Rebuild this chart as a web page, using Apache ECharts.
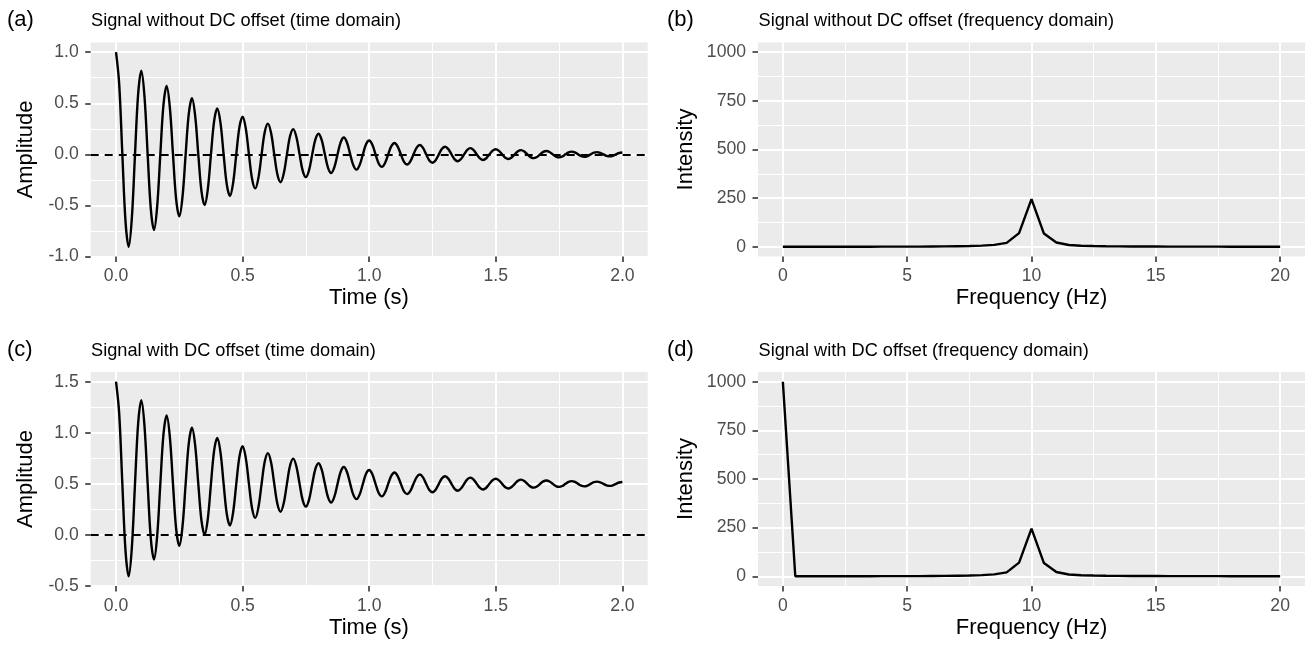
<!DOCTYPE html>
<html>
<head>
<meta charset="utf-8">
<script src="https://cdn.jsdelivr.net/npm/echarts@6/dist/echarts.min.js"></script>
<style>
html,body{margin:0;padding:0;background:#fff;}
#chart{width:1309px;height:648px;}
</style>
</head>
<body>
<div id="chart"></div>
<script>
// ---------- data ----------
const TIME = [0,0.0125,0.025,0.0375,0.05,0.0625,0.075,0.0875,0.1,0.1125,0.125,0.1375,0.15,0.1625,0.175,0.1875,0.2,0.2125,0.225,0.2375,0.25,0.2625,0.275,0.2875,0.3,0.3125,0.325,0.3375,0.35,0.3625,0.375,0.3875,0.4,0.4125,0.425,0.4375,0.45,0.4625,0.475,0.4875,0.5,0.5125,0.525,0.5375,0.55,0.5625,0.575,0.5875,0.6,0.6125,0.625,0.6375,0.65,0.6625,0.675,0.6875,0.7,0.7125,0.725,0.7375,0.75,0.7625,0.775,0.7875,0.8,0.8125,0.825,0.8375,0.85,0.8625,0.875,0.8875,0.9,0.9125,0.925,0.9375,0.95,0.9625,0.975,0.9875,1,1.0125,1.025,1.0375,1.05,1.0625,1.075,1.0875,1.1,1.1125,1.125,1.1375,1.15,1.1625,1.175,1.1875,1.2,1.2125,1.225,1.2375,1.25,1.2625,1.275,1.2875,1.3,1.3125,1.325,1.3375,1.35,1.3625,1.375,1.3875,1.4,1.4125,1.425,1.4375,1.45,1.4625,1.475,1.4875,1.5,1.5125,1.525,1.5375,1.55,1.5625,1.575,1.5875,1.6,1.6125,1.625,1.6375,1.65,1.6625,1.675,1.6875,1.7,1.7125,1.725,1.7375,1.75,1.7625,1.775,1.7875,1.8,1.8125,1.825,1.8375,1.85,1.8625,1.875,1.8875,1.9,1.9125,1.925,1.9375,1.95,1.9625,1.975,1.9875,2];

const SIGNAL_NO_DC = [
1.000,0.690,0,-0.656,-0.905,-0.624,0,0.594,
0.819,0.565,0,-0.537,-0.741,-0.511,0,0.486,
0.670,0.462,0,-0.440,-0.607,-0.418,0,0.398,
0.549,0.379,0,-0.360,-0.497,-0.342,0,0.326,
0.449,0.310,0,-0.295,-0.407,-0.280,0,0.267,
0.368,0.254,0,-0.241,-0.333,-0.230,0,0.218,
0.301,0.208,0,-0.198,-0.273,-0.188,0,0.179,
0.247,0.170,0,-0.162,-0.223,-0.154,0,0.146,
0.202,0.139,0,-0.132,-0.183,-0.126,0,0.120,
0.165,0.114,0,-0.108,-0.150,-0.103,0,0.098,
0.135,0.093,0,-0.089,-0.123,-0.084,0,0.080,
0.111,0.076,0,-0.073,-0.100,-0.069,0,0.066,
0.091,0.063,0,-0.060,-0.082,-0.057,0,0.054,
0.074,0.051,0,-0.049,-0.067,-0.046,0,0.044,
0.061,0.042,0,-0.040,-0.055,-0.038,0,0.036,
0.050,0.034,0,-0.033,-0.045,-0.031,0,0.030,
0.041,0.028,0,-0.027,-0.037,-0.025,0,0.024,
0.033,0.023,0,-0.022,-0.030,-0.021,0,0.020,
0.027,0.019,0,-0.018,-0.025,-0.017,0,0.016,
0.022,0.015,0,-0.015,-0.020,-0.014,0,0.013,
0.018];

const SIGNAL_DC = [
1.500,1.190,0.5,-0.156,-0.405,-0.124,0.5,1.094,
1.319,1.065,0.5,-0.037,-0.241,-0.011,0.5,0.986,
1.170,0.962,0.5,0.060,-0.107,0.082,0.5,0.898,
1.049,0.879,0.5,0.140,0.003,0.158,0.5,0.826,
0.949,0.810,0.5,0.205,0.093,0.220,0.5,0.767,
0.868,0.754,0.5,0.259,0.167,0.270,0.5,0.718,
0.801,0.708,0.5,0.302,0.227,0.312,0.5,0.679,
0.747,0.670,0.5,0.338,0.277,0.346,0.5,0.646,
0.702,0.639,0.5,0.368,0.317,0.374,0.5,0.620,
0.665,0.614,0.5,0.392,0.350,0.397,0.5,0.598,
0.635,0.593,0.5,0.411,0.377,0.416,0.5,0.580,
0.611,0.576,0.5,0.427,0.400,0.431,0.5,0.566,
0.591,0.563,0.5,0.440,0.418,0.443,0.5,0.554,
0.574,0.551,0.5,0.451,0.433,0.454,0.5,0.544,
0.561,0.542,0.5,0.460,0.445,0.462,0.5,0.536,
0.550,0.534,0.5,0.467,0.455,0.469,0.5,0.530,
0.541,0.528,0.5,0.473,0.463,0.475,0.5,0.524,
0.533,0.523,0.5,0.478,0.470,0.479,0.5,0.520,
0.527,0.519,0.5,0.482,0.475,0.483,0.5,0.516,
0.522,0.515,0.5,0.485,0.480,0.486,0.5,0.513,
0.518];

const FREQ = [0,0.5,1,1.5,2,2.5,3,3.5,4,4.5,5,5.5,6,6.5,7,7.5,8,8.5,9,9.5,10,10.5,11,11.5,12,12.5,13,13.5,14,14.5,15,15.5,16,16.5,17,17.5,18,18.5,19,19.5,20];

const SPEC_NO_DC = [0.3,0.3,0.3,0.4,0.4,0.4,0.5,0.5,0.6,0.7,0.8,1.0,1.5,2.0,3.0,4.0,6.0,10,20,70,245,68,22,9,5.5,4,3,2.2,1.7,1.4,1.2,1.0,0.9,0.8,0.7,0.6,0.5,0.5,0.4,0.4,0.3];
const SPEC_DC    = [1000,0.3,0.3,0.4,0.4,0.4,0.5,0.5,0.6,0.7,0.8,1.0,1.5,2.0,3.0,4.0,6.0,10,20,70,245,68,22,9,5.5,4,3,2.2,1.7,1.4,1.2,1.0,0.9,0.8,0.7,0.6,0.5,0.5,0.4,0.4,0.3];

// tick values
const TIME_TICKS = [0,0.5,1,1.5,2];
const TIME_MINOR = [0.25,0.75,1.25,1.75];
const FREQ_TICKS = [0,5,10,15,20];
const FREQ_MINOR = [2.5,7.5,12.5,17.5];
const AMP_A_TICKS = [-1,-0.5,0,0.5,1];
const AMP_A_MINOR = [-0.75,-0.25,0.25,0.75];
const AMP_C_TICKS = [-0.5,0,0.5,1,1.5];
const AMP_C_MINOR = [-0.25,0.25,0.75,1.25];
const INT_TICKS = [0,250,500,750,1000];
const INT_MINOR = [125,375,625,875];

const PANEL_TITLES = ['Signal without DC offset (time domain)','Signal without DC offset (frequency domain)','Signal with DC offset (time domain)','Signal with DC offset (frequency domain)'];
const TAGS = ['(a)','(b)','(c)','(d)'];

// ---------- chart ----------
const FONT = "'Liberation Sans', Arial, Helvetica, sans-serif";
const GRIDS = [
  {left:90.7, top:42.5, width:557, height:214},
  {left:758,  top:42.5, width:547, height:214},
  {left:90.7, top:372,  width:557, height:214},
  {left:758,  top:372,  width:547, height:214}
];

const fmt1 = v => v.toFixed(1);
const fmt0 = v => String(Math.round(v));

function majorAxis(gi, min, max, ticks, formatter, pos, margin) {
  return {
    type:'value', gridIndex:gi, min:min, max:max, position:pos,
    axisLine:{show:false, onZero:false},
    axisTick:{show:true, customValues:ticks, length:5.5, lineStyle:{color:'#333333', width:1.6}},
    axisLabel:{show:true, customValues:ticks, formatter:formatter, color:'#4D4D4D', fontSize:17.6, fontFamily:FONT, margin:margin},
    splitLine:{show:true, lineStyle:{color:'#FFFFFF', width:2}},
    minorTick:{show:false}, minorSplitLine:{show:false}
  };
}
function minorAxis(gi, min, max, ticks, pos) {
  return {
    type:'value', gridIndex:gi, min:min, max:max, position:pos,
    axisLine:{show:false, onZero:false},
    axisTick:{show:false, customValues:ticks},
    axisLabel:{show:false, customValues:ticks},
    splitLine:{show:true, lineStyle:{color:'#FFFFFF', width:1}}
  };
}

const xAxes = [], yAxes = [];
const xCfg = [
  [-0.1, 2.1, TIME_TICKS, TIME_MINOR, fmt1],
  [-1, 21, FREQ_TICKS, FREQ_MINOR, fmt0],
  [-0.1, 2.1, TIME_TICKS, TIME_MINOR, fmt1],
  [-1, 21, FREQ_TICKS, FREQ_MINOR, fmt0]
];
const yCfg = [
  [-1.0, 1.095, AMP_A_TICKS, AMP_A_MINOR, fmt1],
  [-50, 1050, INT_TICKS, INT_MINOR, fmt0],
  [-0.5, 1.595, AMP_C_TICKS, AMP_C_MINOR, fmt1],
  [-50, 1050, INT_TICKS, INT_MINOR, fmt0]
];
for (let i = 0; i < 4; i++) {
  const xc = xCfg[i], yc = yCfg[i];
  xAxes.push(majorAxis(i, xc[0], xc[1], xc[2], xc[4], 'bottom', 11));
  xAxes.push(minorAxis(i, xc[0], xc[1], xc[3], 'top'));
  yAxes.push(majorAxis(i, yc[0], yc[1], yc[2], yc[4], 'left', 12));
  yAxes.push(minorAxis(i, yc[0], yc[1], yc[3], 'right'));
}

function pairs(xs, ys) { return xs.map((x, i) => [x, ys[i]]); }

const zeroLine = {
  silent:true, symbol:['none','none'], label:{show:false},
  lineStyle:{type:[8,6], color:'#000000', width:2},
  emphasis:{disabled:true},
  data:[{yAxis:0}]
};

const LW = 2.4;
const series = [
  {type:'line', xAxisIndex:0, yAxisIndex:0, data:pairs(TIME, SIGNAL_NO_DC), smooth:0.35, showSymbol:false,
   lineStyle:{color:'#000', width:LW}, markLine:zeroLine, z:3},
  {type:'line', xAxisIndex:2, yAxisIndex:2, data:pairs(FREQ, SPEC_NO_DC), showSymbol:false,
   lineStyle:{color:'#000', width:LW}, z:3},
  {type:'line', xAxisIndex:4, yAxisIndex:4, data:pairs(TIME, SIGNAL_DC), smooth:0.35, showSymbol:false,
   lineStyle:{color:'#000', width:LW}, markLine:zeroLine, z:3},
  {type:'line', xAxisIndex:6, yAxisIndex:6, data:pairs(FREQ, SPEC_DC), showSymbol:false,
   lineStyle:{color:'#000', width:LW}, z:3}
];

function txt(x, y, s, size, opts) {
  return Object.assign({type:'text', x:x, y:y, silent:true,
    style:Object.assign({text:s, fontSize:size, fontFamily:FONT, fill:'#000',
      align:'left', verticalAlign:'middle'}, (opts && opts.style) || {})},
    (opts && opts.el) || {});
}
const rowY = [0, 329.5];
const graphics = [];
for (let r = 0; r < 2; r++) {
  const dy = rowY[r];
  graphics.push(txt(7, 20 + dy, TAGS[r*2], 22));
  graphics.push(txt(667, 20 + dy, TAGS[r*2+1], 22));
  graphics.push(txt(91, 21 + dy, PANEL_TITLES[r*2], 18.2));
  graphics.push(txt(758.5, 21 + dy, PANEL_TITLES[r*2+1], 18.2));
  graphics.push(txt(369, 298 + dy, 'Time (s)', 22, {style:{align:'center'}}));
  graphics.push(txt(1031.5, 298 + dy, 'Frequency (Hz)', 22, {style:{align:'center'}}));
  graphics.push(txt(26, 149.5 + dy, 'Amplitude', 22, {style:{align:'center'}, el:{rotation:Math.PI/2}}));
  graphics.push(txt(686, 149.5 + dy, 'Intensity', 22, {style:{align:'center'}, el:{rotation:Math.PI/2}}));
}

const chart = echarts.init(document.getElementById('chart'), null, {renderer:'canvas'});
chart.setOption({
  animation:false,
  backgroundColor:'#FFFFFF',
  grid: GRIDS.map(g => Object.assign({show:true, backgroundColor:'#EBEBEB', borderWidth:0, containLabel:false}, g)),
  xAxis: xAxes,
  yAxis: yAxes,
  series: series,
  graphic: graphics
});
</script>
</body>
</html>
